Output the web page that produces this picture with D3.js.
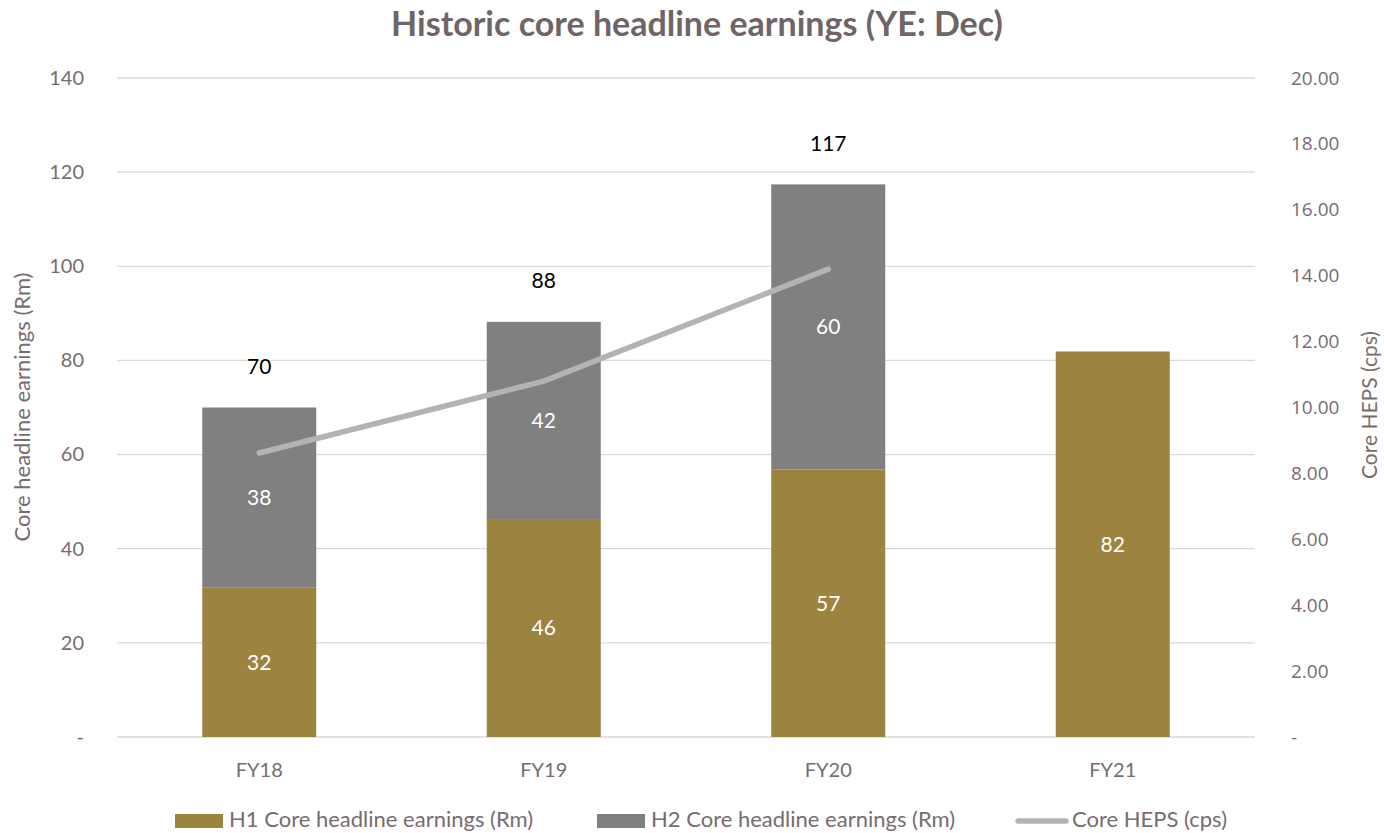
<!DOCTYPE html>
<html>
<head>
<meta charset="utf-8">
<script src="https://cdn.jsdelivr.net/npm/d3@7"></script>
<style>
  body { margin: 0; background: #fff; }
  text { font-family: Lato, "Open Sans", sans-serif; }
</style>
</head>
<body>
<svg id="chart" width="1384" height="833"></svg>
<script>
// data
const categories = ["FY18", "FY19", "FY20", "FY21"];
const h1Earnings = [31.8, 46.3, 56.8, 81.9];
const h2Earnings = [38.2, 41.9, 60.6, null];
const h1Labels = ["32", "46", "57", "82"];
const h2Labels = ["38", "42", "60", null];
const totalLabels = ["70", "88", "117", null];
const coreHeps = [8.62, 10.8, 14.2, null];
const leftTicks = [0, 20, 40, 60, 80, 100, 120, 140];
const rightTicks = [0, 2, 4, 6, 8, 10, 12, 14, 16, 18, 20];

const svg = d3.select("#chart");
const margin = { top: 78, right: 129, bottom: 96, left: 117 };
const width = 1384, height = 833;
const textCol = "#786c6e";

// title
svg.append("text").attr("x", 697).attr("y", 36).attr("text-anchor", "middle")
  .style("font-size", "34px").style("font-weight", "bold").attr("fill", "#6f6566")
  .text("Historic core headline earnings (YE: Dec)");

let xScale = d3.scaleBand().domain(categories)
  .range([margin.left, width - margin.right]).paddingInner(0).paddingOuter(0);
let yLeft = d3.scaleLinear().domain([0, 140]).range([height - margin.bottom, margin.top]);
let yRight = d3.scaleLinear().domain([0, 20]).range([height - margin.bottom, margin.top]);

// gridlines
svg.append("g").selectAll("line").data(leftTicks).enter().append("line")
  .attr("x1", margin.left).attr("x2", width - margin.right)
  .attr("y1", d => yLeft(d)).attr("y2", d => yLeft(d))
  .attr("stroke", "#d9d9d9").attr("stroke-width", 1.3);

// left axis
let leftAxis = svg.append("g").attr("transform", `translate(${margin.left - 30},0)`)
  .call(d3.axisLeft(yLeft).tickValues(leftTicks).tickSize(0)
    .tickFormat(d => d === 0 ? "-" : d));
leftAxis.select(".domain").remove();
leftAxis.selectAll("text").style("font-size", "20px").attr("fill", textCol)
  .style("font-family", "Lato, sans-serif");

// right axis
let rightAxis = svg.append("g").attr("transform", `translate(${width - margin.right + 33},0)`)
  .call(d3.axisRight(yRight).tickValues(rightTicks).tickSize(0)
    .tickFormat(d => d === 0 ? "-" : d3.format(".2f")(d)));
rightAxis.select(".domain").remove();
rightAxis.selectAll("text").style("font-size", "19px").attr("fill", textCol)
  .style("font-family", "'Open Sans', sans-serif");

// axis titles
svg.append("text").attr("transform", "translate(30,407) rotate(-90)")
  .attr("text-anchor", "middle").style("font-size", "22px").attr("fill", textCol)
  .text("Core headline earnings (Rm)");
svg.append("text").attr("transform", "translate(1377,405) rotate(-90)")
  .attr("text-anchor", "middle").style("font-size", "21px").attr("fill", textCol)
  .text("Core HEPS (cps)");

// category labels
svg.append("g").selectAll("text").data(categories).enter().append("text")
  .attr("x", d => xScale(d) + xScale.bandwidth() / 2).attr("y", 777)
  .attr("text-anchor", "middle").style("font-size", "20px").attr("fill", textCol)
  .text(d => d);

// bars
const barW = 114;
let barX = (i) => xScale(categories[i]) + xScale.bandwidth() / 2 - barW / 2;

svg.append("g").selectAll("rect").data(h1Earnings).enter().append("rect")
  .attr("x", (d, i) => barX(i)).attr("width", barW)
  .attr("y", d => yLeft(d)).attr("height", d => yLeft(0) - yLeft(d))
  .attr("fill", "#9c8340");

svg.append("g").selectAll("rect").data(h2Earnings).enter()
  .filter(d => d !== null).append("rect")
  .attr("x", (d, i) => barX(i)).attr("width", barW)
  .attr("y", (d, i) => yLeft(h1Earnings[i] + d))
  .attr("height", d => yLeft(0) - yLeft(d))
  .attr("fill", "#808080");

// segment labels
svg.append("g").selectAll("text").data(h1Earnings).enter().append("text")
  .attr("x", (d, i) => barX(i) + barW / 2).attr("y", d => yLeft(d / 2))
  .attr("dy", "0.35em").attr("text-anchor", "middle")
  .style("font-size", "21px").attr("fill", "#fff").text((d, i) => h1Labels[i]);

h2Earnings.forEach((d, i) => {
  if (d === null) return;
  svg.append("text").attr("x", barX(i) + barW / 2).attr("y", yLeft(h1Earnings[i] + d / 2))
    .attr("dy", "0.35em").attr("text-anchor", "middle")
    .style("font-size", "21px").attr("fill", "#fff").text(h2Labels[i]);
  svg.append("text").attr("x", barX(i) + barW / 2).attr("y", yLeft(h1Earnings[i] + d) - 41)
    .attr("dy", "0.35em").attr("text-anchor", "middle")
    .style("font-size", "21px").attr("fill", "#000").text(totalLabels[i]);
});

// HEPS line
let lineData = coreHeps.map((v, i) => ({ c: categories[i], v: v })).filter(d => d.v !== null);
let line = d3.line().x(d => xScale(d.c) + xScale.bandwidth() / 2).y(d => yRight(d.v));
svg.append("path").datum(lineData).attr("d", line)
  .attr("fill", "none").attr("stroke", "#b3b3b3").attr("stroke-width", 5.5)
  .attr("stroke-linecap", "round").attr("stroke-linejoin", "round");

// legend
const legend = svg.append("g");
legend.append("rect").attr("x", 175).attr("y", 814).attr("width", 48).attr("height", 14).attr("fill", "#9c8340");
legend.append("text").attr("x", 229).attr("y", 827).style("font-size", "22px").attr("fill", textCol)
  .text("H1 Core headline earnings (Rm)");
legend.append("rect").attr("x", 597).attr("y", 814).attr("width", 48).attr("height", 14).attr("fill", "#808080");
legend.append("text").attr("x", 651).attr("y", 827).style("font-size", "22px").attr("fill", textCol)
  .text("H2 Core headline earnings (Rm)");
legend.append("line").attr("x1", 1018).attr("x2", 1066).attr("y1", 821).attr("y2", 821)
  .attr("stroke", "#b3b3b3").attr("stroke-width", 5.5).attr("stroke-linecap", "round");
legend.append("text").attr("x", 1072).attr("y", 827).style("font-size", "22px").attr("fill", textCol)
  .text("Core HEPS (cps)");
</script>
</body>
</html>
